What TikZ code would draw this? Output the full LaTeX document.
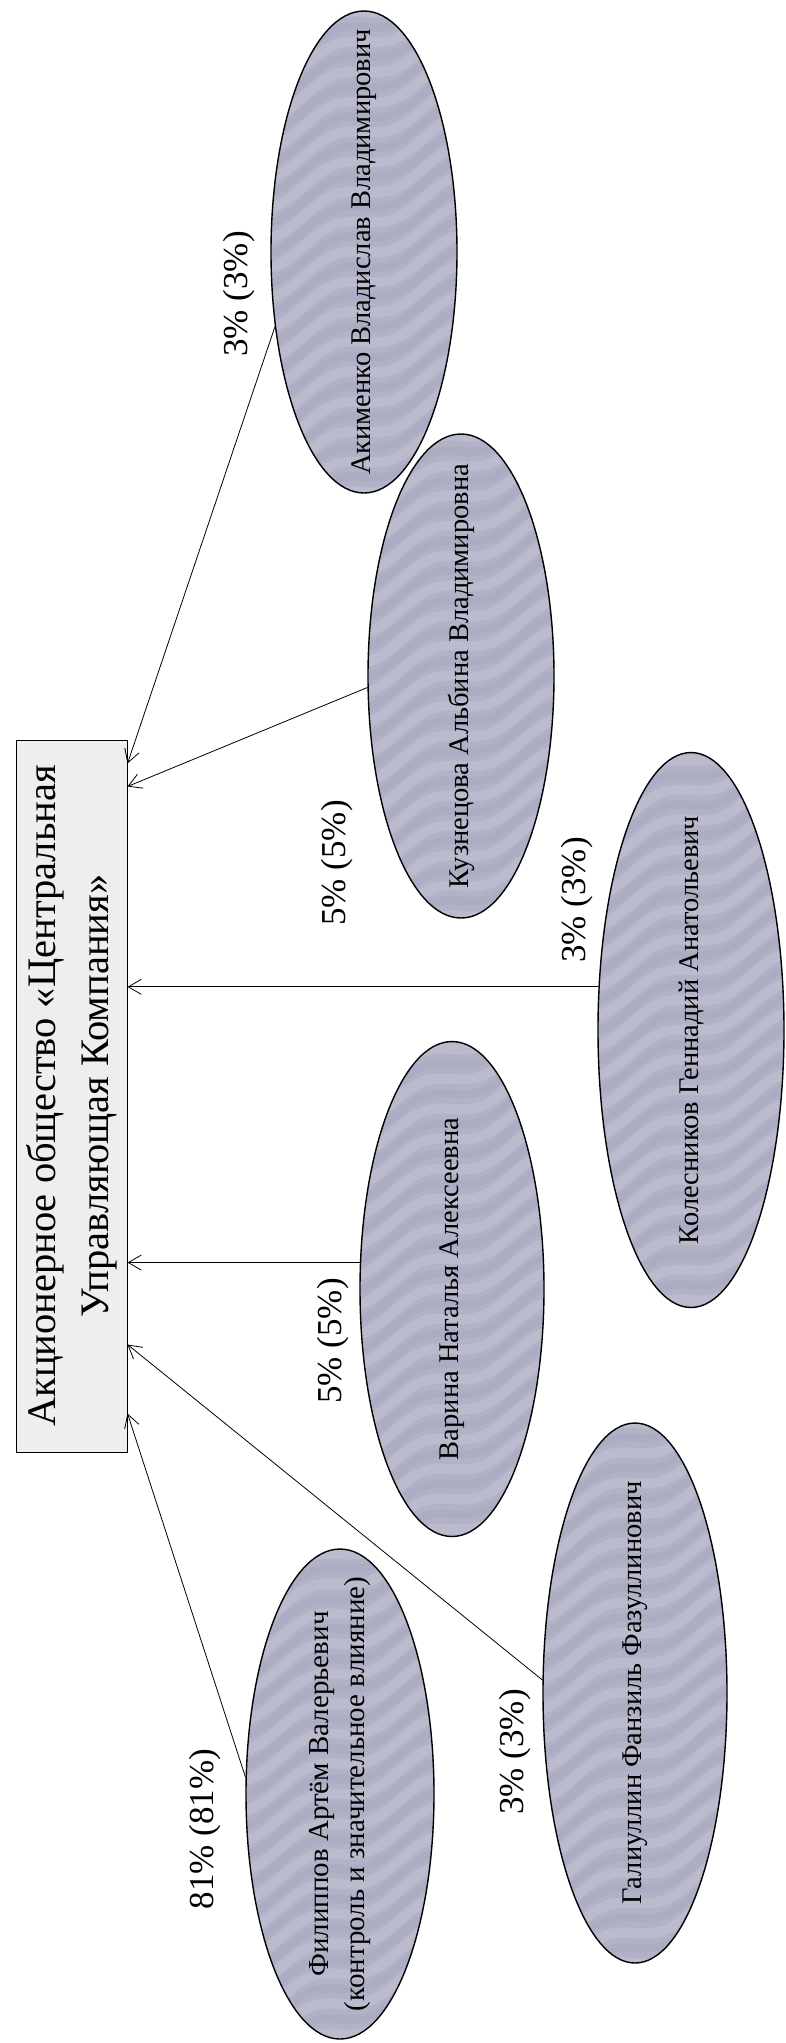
\documentclass[tikz,border=0pt]{standalone}
\usepackage{fontspec}
\setmainfont{Liberation Serif}
\usetikzlibrary{shapes.geometric,arrows.meta,calc}
\definecolor{ellfill}{RGB}{177,178,198}
\definecolor{ellband}{RGB}{140,145,180}
\definecolor{rectfill}{RGB}{240,237,241}
\begin{document}
\begin{tikzpicture}[x=1pt,y=-1pt,
  texture/.style={path picture={
    \foreach \k in {-22,...,22}{
      \draw[shift={(path picture bounding box.center)}, line width=10pt, white, opacity=0.13]
        plot[domain=-110:110, samples=23, smooth] (\x, {\k*30 + 9*sin(3*\x) - 0.4*\x});
      \draw[shift={(path picture bounding box.center)}, line width=8pt, ellband, opacity=0.14]
        plot[domain=-110:110, samples=23, smooth] (\x, {\k*30 + 15 + 9*sin(3*\x) - 0.4*\x});
    }}},
  person/.style={ellipse, draw=black, line width=1.4pt, fill=ellfill, texture, inner sep=0pt},
  nametext/.style={rotate=90, align=center, font=\fontsize{28.5}{34}\selectfont},
  pct/.style={rotate=90, inner sep=0pt, font=\fontsize{35}{40}\selectfont},
  company/.style={draw=black, line width=1pt, fill=rectfill, inner sep=0pt, minimum width=111pt, minimum height=712pt},
  arr/.style={-{Straight Barb[length=13pt,width=15pt]}, line width=0.8pt}]
\useasboundingbox (0,0) rectangle (786,2043);
\fill[white] (0,0) rectangle (786,2043);

% company
\node[company, label={[rotate=90, align=center, font=\fontsize{40.5}{53}\selectfont]center:{Акционерное общество «Центральная\\Управляющая Компания»}}] (co) at (71.5,1096) {};

% shareholders
\node[person, minimum width=186pt, minimum height=482pt,
  label={[nametext]center:{Акименко Владислав Владимирович}}] (ak) at (364,252) {};
\node[person, minimum width=186pt, minimum height=484pt,
  label={[nametext]center:{Кузнецова Альбина Владимировна}}] (ku) at (461,676) {};
\node[person, minimum width=186pt, minimum height=555pt,
  label={[nametext]center:{Колесников Геннадий Анатольевич}}] (ko) at (691,1030) {};
\node[person, minimum width=184pt, minimum height=495pt,
  label={[nametext]center:{Варина Наталья Алексеевна}}] (va) at (452,1289) {};
\node[person, minimum width=184pt, minimum height=540pt,
  label={[nametext]center:{Галиуллин Фанзиль Фазуллинович}}] (ga) at (635,1693) {};
\node[person, minimum width=188pt, minimum height=490pt,
  label={[nametext, font=\fontsize{29}{36}\selectfont]center:{Филиппов Артём Валерьевич\\(контроль и значительное влияние)}}] (fi) at (340,1794) {};

% percentages
\node[pct] (pak) at (239,294) {3\% (3\%)};
\node[pct] (pku) at (337,863) {5\% (5\%)};
\node[pct] (pko) at (577,900) {3\% (3\%)};
\node[pct] (pva) at (333,1341) {5\% (5\%)};
\node[pct] (pga) at (515,1752) {3\% (3\%)};
\node[pct] (pfi) at (205,1829) {81\% (81\%)};

% connectors
\draw[arr] (ak.220) -- ([yshift=-24pt]co.north east);
\draw[arr] (ku.187) -- ([yshift=-47pt]co.north east);
\draw[arr] (ko.155) -- (ko.155 -| co.east);
\draw[arr] (va.164) -- (va.164 -| co.east);
\draw[arr] (ga.172) -- ([yshift=-605pt]co.north east);
\draw[arr] (fi.170) -- ([yshift=-674pt]co.north east);
\end{tikzpicture}
\end{document}
